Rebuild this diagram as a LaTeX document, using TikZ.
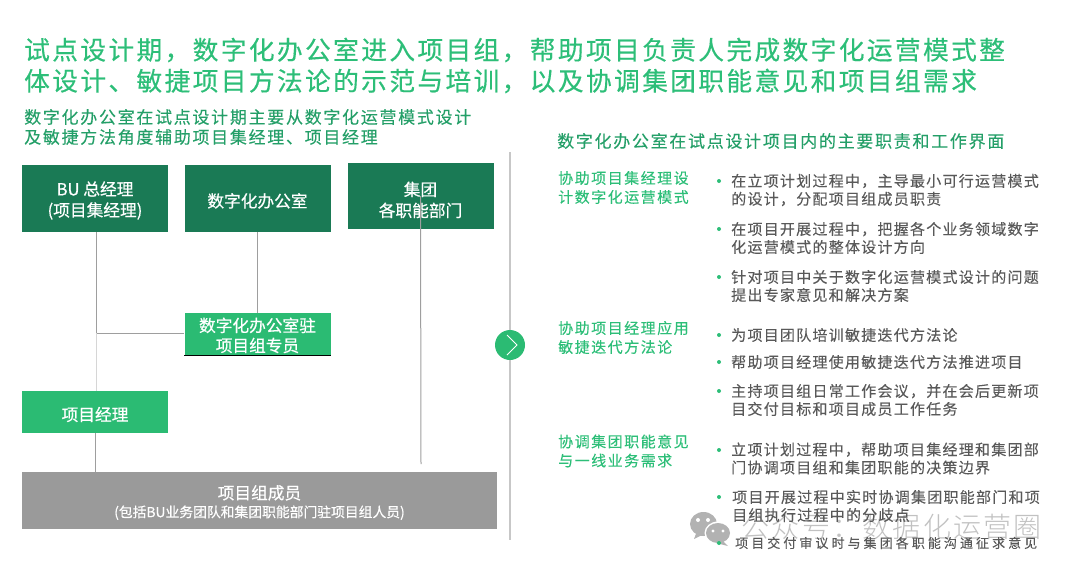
\documentclass[tikz,border=0pt]{standalone}
\usepackage{fontspec}
\setmainfont{Noto Sans CJK SC}
\newfontfamily\titlefont[LetterSpace=9.3,FakeBold=0.4]{Noto Sans CJK SC}
\newfontfamily\headfont[LetterSpace=10,FakeBold=0.15]{Noto Sans CJK SC}
\newfontfamily\bodyfont[LetterSpace=8,FakeBold=0.15]{Noto Sans CJK SC}
\newfontfamily\thinfont[LetterSpace=23.5,FakeBold=0.15]{Noto Sans CJK SC}
\newfontfamily\boxfont[FakeBold=0.5]{Noto Sans CJK SC}
\newfontfamily\markfont[LetterSpace=8]{Noto Sans CJK SC Light}
\newcommand{\lowr}[1]{\rule{0pt}{#1pt}}
\definecolor{darkgrn}{HTML}{1A7A55}
\definecolor{lightgrn}{HTML}{2BBB73}
\definecolor{titlegrn}{HTML}{2DBE78}
\definecolor{boxgray}{HTML}{9A9A9A}
\definecolor{textgray}{HTML}{595959}
\usetikzlibrary{positioning}

\begin{document}
\begin{tikzpicture}[x=1pt,y=-1pt,
org/.style={fill=darkgrn,text=white,inner sep=0,minimum width=146pt,minimum height=67pt,align=center,font=\boxfont\fontsize{16.7}{21}\selectfont},
sub/.style={fill=lightgrn,text=white,inner sep=0,minimum width=146pt,align=center,font=\boxfont\fontsize{16.7}{20}\selectfont},
lbl/.style={anchor=west,inner sep=0,align=left,text=titlegrn,font=\headfont\fontsize{15}{19}\selectfont},
item/.style={anchor=west,inner sep=0,align=left,text=textgray,font=\bodyfont\fontsize{15.05}{18}\selectfont},
dot/.style={circle,fill=titlegrn,inner sep=0,minimum size=4pt},
link/.style={draw=black!38,line width=1pt}]
\useasboundingbox (0,0) rectangle (1080,571);
% headings
\node[anchor=west,inner sep=0,align=left,text=titlegrn,font=\titlefont\fontsize{25.7}{31}\selectfont] (ttl) at (24,65.5) {试点设计期，数字化办公室进入项目组，帮助项目负责人完成数字化运营模式整\\体设计、敏捷项目方法论的示范与培训，以及协调集团职能意见和项目组需求};
\node[anchor=west,inner sep=0,align=left,text=titlegrn!55!darkgrn,font=\headfont\fontsize{17}{20}\selectfont] (sl) at (24,127) {数字化办公室在试点设计期主要从数字化运营模式设计\\及敏捷方法角度辅助项目集经理、项目经理};
\node[anchor=west,inner sep=0,text=titlegrn!55!darkgrn,font=\headfont\fontsize{17}{20}\selectfont] (sr) at (557,141) {数字化办公室在试点设计项目内的主要职责和工作界面};
% org chart
\node[org] (bu) at (95,198.5) {\lowr{18}BU 总经理\\(项目集经理)};
\node[org] (off) at (257.5,198.5) {\lowr{19}数字化办公室};
\node[org,minimum height=66pt] (grp) at (420.5,196) {\lowr{22}集团\\各职能部门};
\node[sub,minimum height=42pt] (zhu) at (257.5,334) {\lowr{17}数字化办公室驻\\项目组专员};
\node[sub,minimum height=42pt] (pm) at (95,412) {\lowr{19}项目经理};
\node[fill=boxgray,text=white,inner sep=0,minimum width=475pt,minimum height=57pt,align=center,font=\fontsize{14}{18}\selectfont] (mem) at (259.5,500.5) {{\boxfont\fontsize{16.7}{18}\selectfont \lowr{18}项目组成员}\\{\boxfont\fontsize{13.8}{18}\selectfont (包括BU业务团队和集团职能部门驻项目组人员)}};
\coordinate (jct) at (96,333);
\coordinate (grpend) at (421,464);
\draw[link] (96,232) -- (jct) -- (zhu.west |- jct);
\draw[link,black!16] (jct) -- (96,391);
\draw[link] (pm.south) -- (mem.north -| pm.south);
\draw[link] (off.south) -- (zhu.north);
\draw[link] (grp.center) -- (grpend);
\draw[black,line width=1pt] (zhu.south west) -- (zhu.south east);
% divider
\coordinate (divtop) at (510,152);
\coordinate (divbot) at (510,540);
\draw[black!22,line width=1.3pt] (divtop) -- (divbot);
\node[circle,fill=lightgrn,inner sep=0,minimum size=30pt] (go) at (510,345) {};
\draw[white,line width=.8pt] ([shift={(-3,-10)}]go.center) -- ([shift={(7,0)}]go.center) -- ([shift={(-3,10)}]go.center);
% watermark
\fill[black!30] (703.5,524) ellipse (13.5pt and 12pt);
\fill[black!30] (697,531) -- (694,539) -- (704,534) -- cycle;
\fill[white] (718,533) ellipse (13.5pt and 11.5pt);
\fill[black!30] (718,533) ellipse (12pt and 10pt);
\fill[black!30] (723,541) -- (728,546) -- (716,543) -- cycle;
\fill[white] (698,520) circle (2pt) (708,520) circle (2pt) (713,531) circle (1.6pt) (723,531) circle (1.6pt);
\node[anchor=west,inner sep=0,text=black!30,opacity=.8,font=\markfont\fontsize{28}{30}\selectfont] (wm) at (741.5,527) {公众号：数据化运营圈};
% right column
\node[lbl] (l1) at (558,187.5) {协助项目集经理设\\计数字化运营模式};
\node[lbl] (l2) at (558,337.5) {协助项目经理应用\\敏捷迭代方法论};
\node[lbl] (l3) at (558,451) {协调集团职能意见\\与一线业务需求};
\node[item] (i1) at (731,190) {在立项计划过程中，主导最小可行运营模式\\的设计，分配项目组成员职责};
\node[item] (i2) at (731,238) {在项目开展过程中，把握各个业务领域数字\\化运营模式的整体设计方向};
\node[item] (i3) at (731,286) {针对项目中关于数字化运营模式设计的问题\\提出专家意见和解决方案};
\node[item] (i4) at (731,335) {为项目团队培训敏捷迭代方法论};
\node[item] (i5) at (731,362) {帮助项目经理使用敏捷迭代方法推进项目};
\node[item] (i6) at (731,400) {主持项目组日常工作会议，并在会后更新项\\目交付目标和项目成员工作任务};
\node[item] (i7) at (731,458.5) {立项计划过程中，帮助项目集经理和集团部\\门协调项目组和集团职能的决策边界};
\node[item] (i8) at (732,506) {项目开展过程中实时协调集团职能部门和项\\目组执行过程中的分歧点};
\node[item,font=\thinfont\fontsize{13}{16}\selectfont] (i9) at (735,543) {项目交付审议时与集团各职能沟通征求意见};
\foreach \n/\y in {1/181,2/229,3/277,4/335,5/362,6/391,7/450,8/497,9/543}
  \node[dot] (d\n) at (719,\y) {};
\end{tikzpicture}
\end{document}
